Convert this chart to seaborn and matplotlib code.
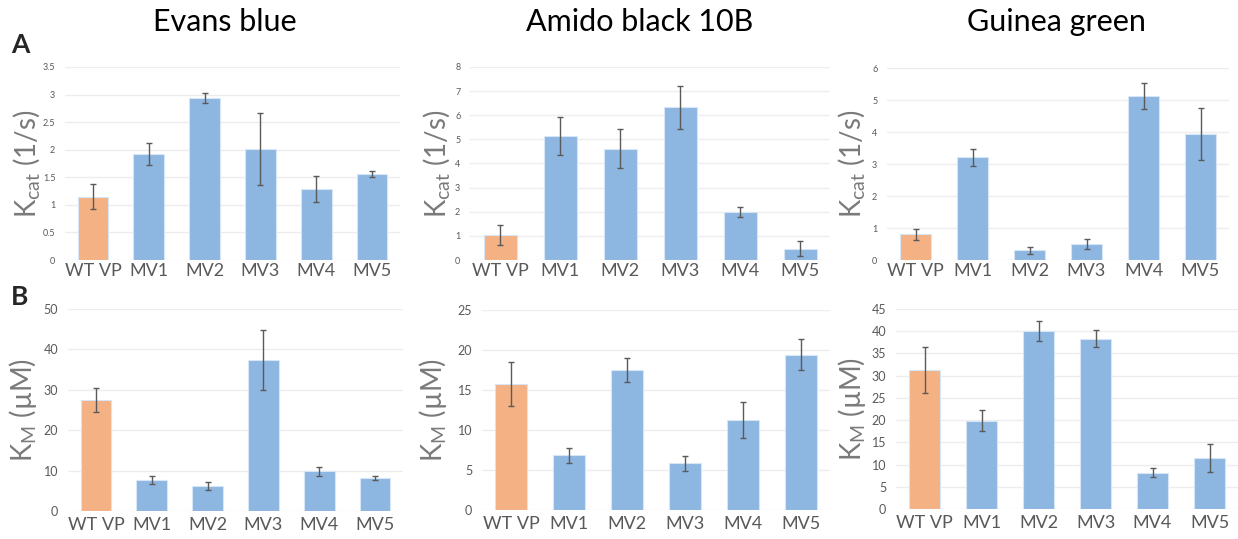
import matplotlib
matplotlib.use("Agg")
import matplotlib.pyplot as plt
import seaborn as sns
import pandas as pd

strains = ["WT VP", "MV1", "MV2", "MV3", "MV4", "MV5"]
dyes = ["Evans blue", "Amido black 10B", "Guinea green"]

# kcat (1/s) and error
kcat_evans = [1.15, 1.93, 2.93, 2.01, 1.29, 1.56]
kcat_evans_err = [0.23, 0.20, 0.09, 0.65, 0.23, 0.05]
kcat_amido = [1.03, 5.14, 4.62, 6.34, 1.98, 0.47]
kcat_amido_err = [0.41, 0.80, 0.82, 0.89, 0.20, 0.30]
kcat_guinea = [0.80, 3.21, 0.30, 0.51, 5.12, 3.94]
kcat_guinea_err = [0.16, 0.26, 0.12, 0.16, 0.40, 0.81]

# KM (uM) and error
km_evans = [27.5, 7.7, 6.3, 37.4, 9.8, 8.1]
km_evans_err = [2.9, 1.05, 1.0, 7.4, 1.15, 0.45]
km_amido = [15.75, 6.83, 17.5, 5.83, 11.25, 19.4]
km_amido_err = [2.75, 0.95, 1.5, 0.95, 2.2, 1.95]
km_guinea = [31.2, 19.9, 40.1, 38.3, 8.2, 11.5]
km_guinea_err = [5.2, 2.35, 2.3, 1.9, 0.95, 3.1]

kcat_ticks = [[0, 0.5, 1, 1.5, 2, 2.5, 3, 3.5], list(range(0, 9)), list(range(0, 7))]
km_ticks = [list(range(0, 51, 10)), list(range(0, 26, 5)), list(range(0, 46, 5))]

sns.set_theme(style="white")
plt.rcParams["font.family"] = ["Lato", "DejaVu Sans"]
plt.rcParams["mathtext.fontset"] = "custom"
plt.rcParams["mathtext.rm"] = "Lato"

W, H = 1238, 539
fig = plt.figure(figsize=(W / 100, H / 100), dpi=100)
gray = "#595959"
label_gray = "#7a7a7a"
orange = "#F4B183"
blue = "#8DB6E1"
palette = [orange] + [blue] * 5


def px_axes(l, t, r, b):
    return fig.add_axes([l / W, 1 - b / H, (r - l) / W, (b - t) / H])


top_boxes = [(65, 67, 400, 260), (470, 67, 830, 260), (887, 68, 1229, 260)]
bot_boxes = [(68, 309, 403, 511), (482, 310, 830, 510), (896, 309, 1238, 509)]
top_vals = [(kcat_evans, kcat_evans_err), (kcat_amido, kcat_amido_err), (kcat_guinea, kcat_guinea_err)]
bot_vals = [(km_evans, km_evans_err), (km_amido, km_amido_err), (km_guinea, km_guinea_err)]
top_label_x = [27, 437, 852]
bot_label_x = [23, 433, 852]


def draw(ax, vals, errs, ticks, ytick_size, xtick_pad):
    df = pd.DataFrame({"strain": strains, "value": vals})
    sns.barplot(data=df, x="strain", y="value", hue="strain", palette=palette,
                saturation=1, width=0.55, legend=False, ax=ax,
                edgecolor="#D6E6F5", linewidth=0.8)
    ax.errorbar(range(len(strains)), vals, yerr=errs, fmt="none", ecolor="#5a5a5a",
                elinewidth=1.0, capsize=2.5, capthick=1.0)
    ax.set_xlim(-0.5, 5.5)
    ax.set_ylim(ticks[0], ticks[-1])
    ax.set_yticks(ticks)
    ax.set_yticklabels([f"{t:g}" for t in ticks])
    ax.yaxis.grid(True, color="#EDEDED", linewidth=1)
    ax.set_axisbelow(True)
    for s in ax.spines.values():
        s.set_visible(False)
    ax.tick_params(axis="y", length=0, labelsize=ytick_size, labelcolor=gray, pad=7)
    ax.tick_params(axis="x", length=0, labelsize=13, labelcolor=gray, pad=xtick_pad)
    ax.set_xlabel("")
    ax.set_ylabel("")


for i in range(3):
    ax = px_axes(*top_boxes[i])
    draw(ax, top_vals[i][0], top_vals[i][1], kcat_ticks[i], 6.5, 2)
    yc = 1 - (top_boxes[i][1] + top_boxes[i][3]) / 2 / H
    fig.text(top_label_x[i] / W, yc, r"K$_{\mathrm{cat}}$ (1/s)", rotation=90,
             ha="center", va="center", fontsize=20, color=label_gray)

    ax = px_axes(*bot_boxes[i])
    draw(ax, bot_vals[i][0], bot_vals[i][1], km_ticks[i], 9, 4)
    yc = 1 - (bot_boxes[i][1] + bot_boxes[i][3]) / 2 / H
    fig.text(bot_label_x[i] / W, yc, "K$_{\\mathrm{M}}$ (\u00b5M)", rotation=90,
             ha="center", va="center", fontsize=20, color=label_gray)

for x, name in zip([225, 640, 1056], dyes):
    fig.text(x / W, 1 - 22 / H, name, ha="center", va="center", fontsize=22, color="black")

fig.text(20 / W, 1 - 45 / H, "A", ha="center", va="center", fontsize=19, fontweight="bold")
fig.text(20 / W, 1 - 297 / H, "B", ha="center", va="center", fontsize=19, fontweight="bold")

fig.savefig("out.png", dpi=100, facecolor="white")
